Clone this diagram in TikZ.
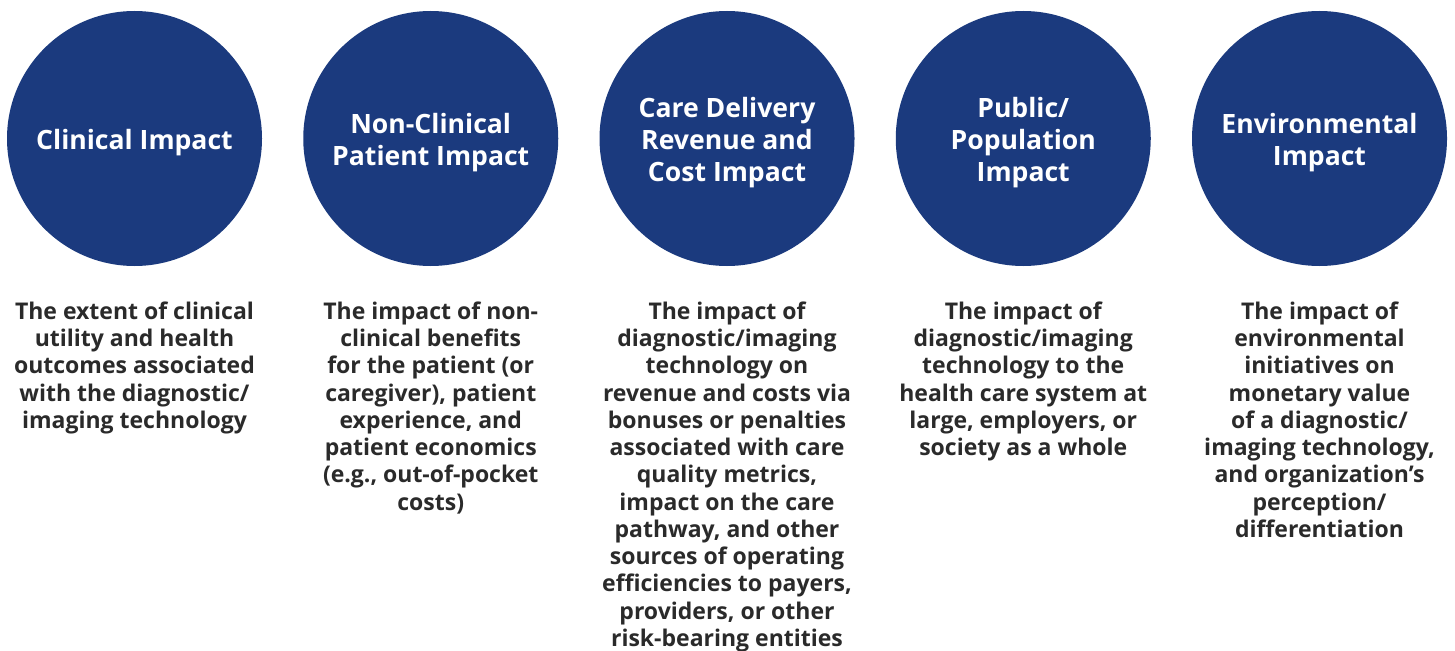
\documentclass[tikz,border=0pt]{standalone}
\usepackage{fontspec}
\setmainfont{Open Sans}
\definecolor{impactblue}{HTML}{1B3A7E}
\definecolor{desctext}{HTML}{2A2A2A}
\newcommand{\capstrut}{\rule{0pt}{28pt}}
\begin{document}
\begin{tikzpicture}[x=1pt,y=-1pt,
  impact/.style={circle,fill=impactblue,minimum size=255pt,inner sep=0pt,
    text=white,align=center,font=\fontsize{26.6}{32}\selectfont\bfseries},
  desc/.style={anchor=north,inner sep=0pt,text=desctext,align=center,
    font=\fontsize{23}{27.25}\selectfont\bfseries}]
\useasboundingbox (0,0) rectangle (1455,650);

\node[impact] (clin) at (134.5, 138.5) {\capstrut Clinical Impact};
\node[impact] (nonclin) at (430.75, 138.5) {\capstrut Non-Clinical\\Patient Impact};
\node[impact] (care) at (727, 138.5) {\capstrut Care Delivery\\Revenue and\\Cost Impact};
\node[impact] (public) at (1023.25, 138.5) {\capstrut Public/\\Population\\Impact};
\node[impact] (env) at (1319.5, 138.5) {\capstrut Environmental\\Impact};

\node[desc] (clindesc) at (134.5, 301.5) {The extent of clinical\\utility and health\\outcomes associated\\with the diagnostic/\\imaging technology};
\node[desc] (nonclindesc) at (430.75, 301.5) {The impact of non-\\clinical benefits\\for the patient (or\\caregiver), patient\\experience, and\\patient economics\\(e.g., out-of-pocket\\costs)};
\node[desc] (caredesc) at (727, 301.5) {The impact of\\diagnostic/imaging\\technology on\\revenue and costs via\\bonuses or penalties\\associated with care\\quality metrics,\\impact on the care\\pathway, and other\\sources of operating\\efficiencies to payers,\\providers, or other\\risk-bearing entities};
\node[desc] (publicdesc) at (1023.25, 301.5) {The impact of\\diagnostic/imaging\\technology to the\\health care system at\\large, employers, or\\society as a whole};
\node[desc] (envdesc) at (1319.5, 301.5) {The impact of\\environmental\\initiatives on\\monetary value\\of a diagnostic/\\imaging technology,\\and organization's\\perception/\\differentiation};

\end{tikzpicture}
\end{document}
